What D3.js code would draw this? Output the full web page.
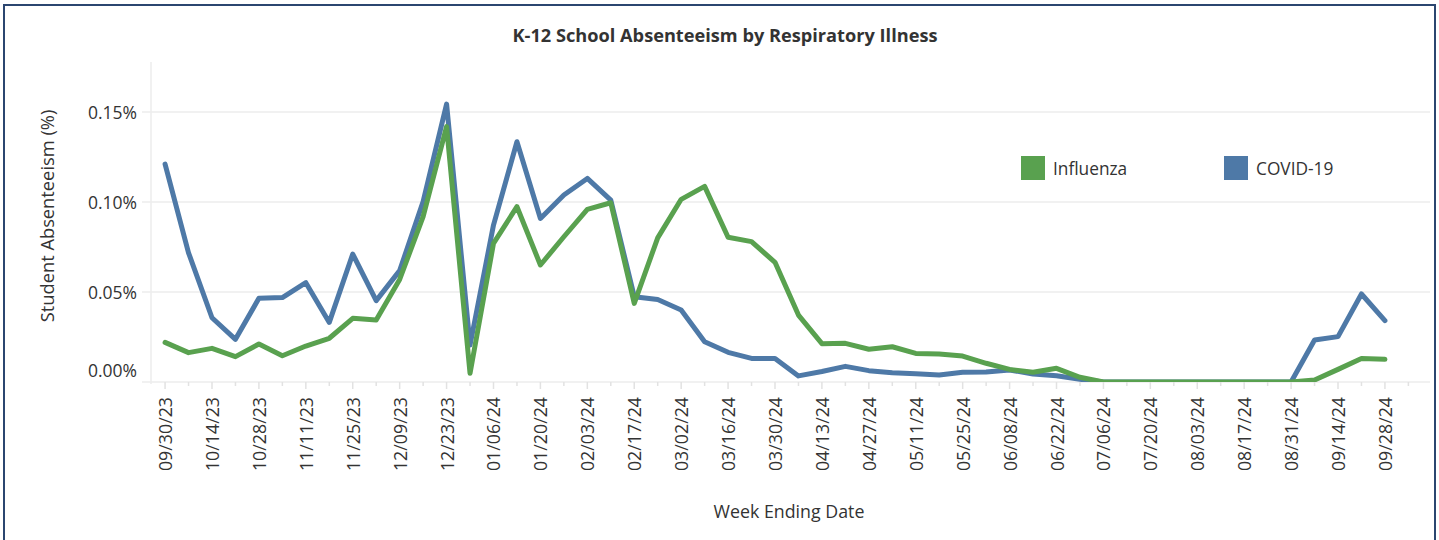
<!DOCTYPE html>
<html>
<head>
<meta charset="utf-8">
<script src="https://cdn.jsdelivr.net/npm/d3@7"></script>
<style>
  html, body { margin: 0; padding: 0; background: #fff; }
  svg { display: block; font-family: "Open Sans", "Noto Sans", sans-serif; }
</style>
</head>
<body>
<svg id="chart" width="1439" height="540"></svg>
<script>
// ---- Data ----
const weekDates = [
  "09/30/23","10/07/23","10/14/23","10/21/23","10/28/23","11/04/23","11/11/23","11/18/23",
  "11/25/23","12/02/23","12/09/23","12/16/23","12/23/23","12/30/23","01/06/24","01/13/24",
  "01/20/24","01/27/24","02/03/24","02/10/24","02/17/24","02/24/24","03/02/24","03/09/24",
  "03/16/24","03/23/24","03/30/24","04/06/24","04/13/24","04/20/24","04/27/24","05/04/24",
  "05/11/24","05/18/24","05/25/24","06/01/24","06/08/24","06/15/24","06/22/24","06/29/24",
  "07/06/24","07/13/24","07/20/24","07/27/24","08/03/24","08/10/24","08/17/24","08/24/24",
  "08/31/24","09/07/24","09/14/24","09/21/24","09/28/24"
];
const covidValues = [
  0.1211,0.0718,0.0357,0.0237,0.0465,0.0469,0.0552,0.0331,
  0.0711,0.0452,0.0619,0.1002,0.1544,0.0205,0.0872,0.1335,
  0.0909,0.1039,0.1131,0.1011,0.0474,0.0458,0.0400,0.0224,
  0.0165,0.0131,0.0131,0.0034,0.0058,0.0087,0.0063,0.0052,
  0.0046,0.0039,0.0054,0.0056,0.0067,0.0044,0.0035,0.0015,
  0,0,0,0,0,0,0,0,
  0,0.0233,0.0252,0.0489,0.0341
];
const influenzaValues = [
  0.0220,0.0163,0.0187,0.0141,0.0211,0.0146,0.0200,0.0243,
  0.0354,0.0344,0.0570,0.0919,0.1419,0.0048,0.0770,0.0974,
  0.0650,0.0807,0.0959,0.0996,0.0437,0.0801,0.1015,0.1087,
  0.0804,0.0780,0.0665,0.0372,0.0213,0.0215,0.0182,0.0196,
  0.0159,0.0156,0.0144,0.0104,0.0070,0.0054,0.0076,0.0026,
  0,0,0,0,0,0,0,0,
  0,0.0011,0.0070,0.0131,0.0126
];
const xTickLabels = [
  "09/30/23","10/14/23","10/28/23","11/11/23","11/25/23","12/09/23","12/23/23",
  "01/06/24","01/20/24","02/03/24","02/17/24","03/02/24","03/16/24","03/30/24",
  "04/13/24","04/27/24","05/11/24","05/25/24","06/08/24","06/22/24","07/06/24",
  "07/20/24","08/03/24","08/17/24","08/31/24","09/14/24","09/28/24"
];
const yTickValues = [0, 0.05, 0.10, 0.15];
const seriesNames = ["Influenza", "COVID-19"];
const seriesColors = ["#59A14F", "#4E79A7"];

// ---- Layout ----
const parse = d3.timeParse("%m/%d/%y");
const fmt = d3.timeFormat("%m/%d/%y");
const dates = weekDates.map(parse);
const plot = { left: 151, right: 1430, top: 62, bottom: 382 };
const DAY = 864e5;

const x = d3.scaleTime()
  .domain([new Date(dates[0].getTime() - 4.2 * DAY), new Date(dates[dates.length - 1].getTime() + 13.45 * DAY)])
  .range([plot.left, plot.right]);
const y = d3.scaleLinear().domain([0, 0.1778]).range([plot.bottom, plot.top]);

const svg = d3.select("#chart");
const textColor = "#333";

// outer frame
svg.append("rect").attr("x", 4).attr("y", 5).attr("width", 1431).attr("height", 560)
  .attr("fill", "none").attr("stroke", "#2b4670").attr("stroke-width", 2);

// title
svg.append("text").attr("x", 725).attr("y", 35).attr("text-anchor", "middle")
  .attr("dominant-baseline", "central").attr("font-weight", "bold").attr("font-size", 18.2)
  .attr("fill", textColor).text("K-12 School Absenteeism by Respiratory Illness");

// gridlines
svg.append("g").selectAll("line").data(yTickValues.filter(d => d > 0)).join("line")
  .attr("x1", 142).attr("x2", plot.right).attr("y1", d => y(d)).attr("y2", d => y(d))
  .attr("stroke", "#ececec").attr("stroke-width", 1.5);

// y axis line
svg.append("line").attr("x1", plot.left).attr("x2", plot.left).attr("y1", plot.top).attr("y2", plot.bottom + 2)
  .attr("stroke", "#ececec").attr("stroke-width", 1.5);
// x axis baseline
svg.append("line").attr("x1", 142).attr("x2", plot.right).attr("y1", plot.bottom).attr("y2", plot.bottom)
  .attr("stroke", "#ececec").attr("stroke-width", 1.5);

// y tick labels
svg.append("g").selectAll("text").data(yTickValues).join("text")
  .attr("x", 137).attr("y", d => d === 0 ? y(d) - 12 : y(d))
  .attr("text-anchor", "end").attr("dominant-baseline", "central")
  .attr("font-size", 17.5).attr("fill", textColor)
  .text(d => d3.format(".2f")(d) + "%");

// x ticks (weekly)
const weekTicks = dates.concat([d3.timeDay.offset(dates[dates.length - 1], 7)]);
const labelSet = new Set(xTickLabels);
svg.append("g").selectAll("line").data(weekTicks).join("line")
  .attr("x1", d => x(d)).attr("x2", d => x(d))
  .attr("y1", plot.bottom).attr("y2", d => labelSet.has(fmt(d)) ? plot.bottom + 7 : plot.bottom + 4)
  .attr("stroke", "#e2e2e2").attr("stroke-width", 1.5);

// x tick labels
svg.append("g").selectAll("text").data(xTickLabels).join("text")
  .attr("transform", d => `translate(${x(parse(d))},397) rotate(-90)`)
  .attr("text-anchor", "end").attr("dominant-baseline", "central")
  .attr("font-size", 17.8).attr("fill", textColor).text(d => d);

// axis titles
svg.append("text").attr("transform", "translate(46,216) rotate(-90)")
  .attr("text-anchor", "middle").attr("dominant-baseline", "central")
  .attr("font-size", 18.3).attr("fill", textColor).text("Student Absenteeism (%)");
svg.append("text").attr("x", 789).attr("y", 511).attr("text-anchor", "middle")
  .attr("dominant-baseline", "central").attr("font-size", 17.8).attr("fill", textColor)
  .text("Week Ending Date");

// clip
svg.append("clipPath").attr("id", "plotclip").append("rect")
  .attr("x", plot.left - 10).attr("y", plot.top - 10)
  .attr("width", plot.right - plot.left + 10).attr("height", plot.bottom - plot.top + 10);

const line = d3.line().x(d => x(d.date)).y(d => y(d.v));
const covidData = dates.map((d, i) => ({ date: d, v: covidValues[i] }));
const fluData = dates.map((d, i) => ({ date: d, v: influenzaValues[i] }));

const lines = svg.append("g").attr("clip-path", "url(#plotclip)");
lines.append("path").datum(covidData).attr("d", line)
  .attr("fill", "none").attr("stroke", seriesColors[1]).attr("stroke-width", 5)
  .attr("stroke-linejoin", "round").attr("stroke-linecap", "round");
lines.append("path").datum(fluData).attr("d", line)
  .attr("fill", "none").attr("stroke", seriesColors[0]).attr("stroke-width", 5)
  .attr("stroke-linejoin", "round").attr("stroke-linecap", "round");

// legend
const legendX = [1021, 1224];
const lg = svg.append("g").selectAll("g").data(seriesNames).join("g")
  .attr("transform", (d, i) => `translate(${legendX[i]},156)`);
lg.append("rect").attr("width", 24).attr("height", 24).attr("fill", (d, i) => seriesColors[i]);
lg.append("text").attr("x", 32).attr("y", 12).attr("dominant-baseline", "central")
  .attr("font-size", 17.3).attr("fill", textColor).text(d => d);
</script>
</body>
</html>
